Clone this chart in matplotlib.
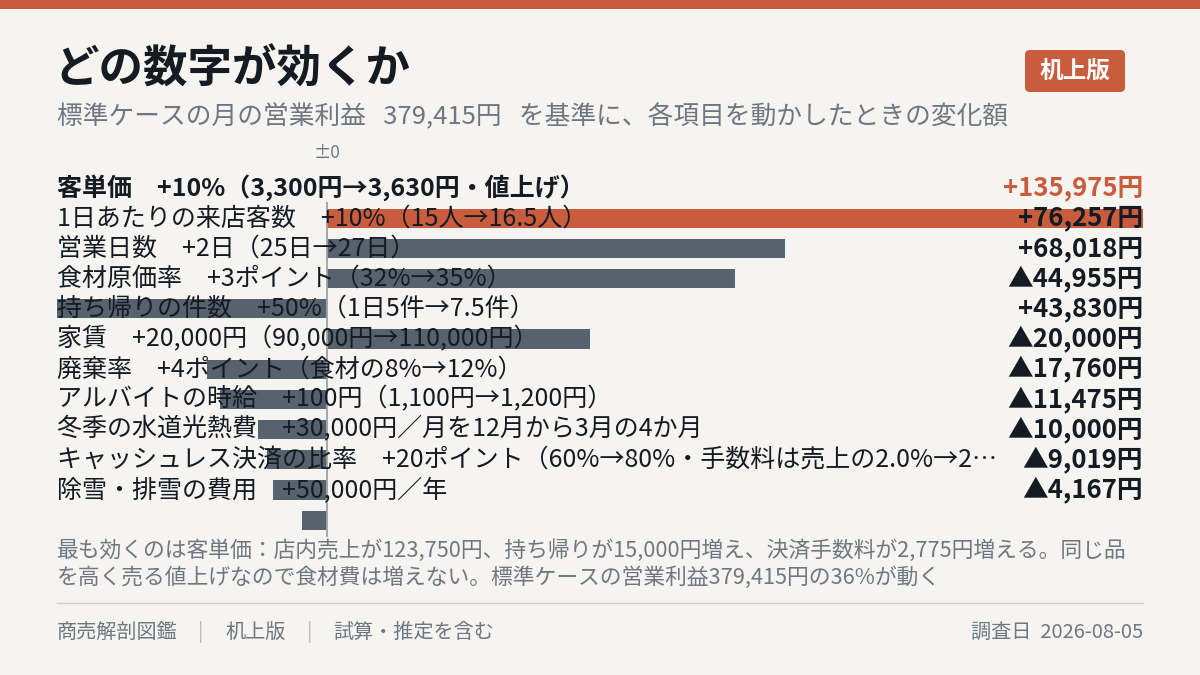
import matplotlib
matplotlib.use("Agg")
import matplotlib.pyplot as plt
import matplotlib.transforms as mtransforms
from matplotlib.patches import Rectangle, FancyBboxPatch
import numpy as np

plt.rcParams['font.family'] = ['Noto Sans CJK JP', 'DejaVu Sans']

# data
items = ["客単価", "1日あたりの来店客数", "営業日数", "食材原価率", "持ち帰りの件数",
         "家賃", "廃棄率", "アルバイトの時給", "冬季の水道光熱費",
         "キャッシュレス決済の比率", "除雪・排雪の費用"]
details = ["+10%（3,300円→3,630円・値上げ）", "+10%（15人→16.5人）", "+2日（25日→27日）",
           "+3ポイント（32%→35%）", "+50%（1日5件→7.5件）", "+20,000円（90,000円→110,000円）",
           "+4ポイント（食材の8%→12%）", "+100円（1,100円→1,200円）",
           "+30,000円／月を12月から3月の4か月",
           "+20ポイント（60%→80%・手数料は売上の2.0%→2…", "+50,000円／年"]
deltas = [135975, 76257, 68018, -44955, 43830, -20000, -17760, -11475, -10000, -9019, -4167]

title = "どの数字が効くか"
subtitle = "標準ケースの月の営業利益   379,415円   を基準に、各項目を動かしたときの変化額"
note = ["最も効くのは客単価：店内売上が123,750円、持ち帰りが15,000円増え、決済手数料が2,775円増える。同じ品",
        "を高く売る値上げなので食材費は増えない。標準ケースの営業利益379,415円の36%が動く"]
footer_left = ["商売解剖図鑑", "机上版", "試算・推定を含む"]
footer_right = "調査日  2026-08-05"

BG = "#f5f4f0"
ORANGE = "#c95c3d"
SLATE = "#56636f"
DARK = "#141b22"
GRAY = "#6e7781"

W, H = 1200, 675
fig = plt.figure(figsize=(12, 6.75), dpi=100, facecolor=BG)

def fx(px):
    return px / W

def fy(py):
    return 1 - py / H

# top band
fig.patches.append(Rectangle((0, fy(9)), 1, 9 / H, transform=fig.transFigure,
                             facecolor=ORANGE, edgecolor="none"))

fig.text(fx(54), fy(70), title, fontsize=32, fontweight="bold", color=DARK, va="center")
fig.text(fx(57), fy(117), subtitle, fontsize=18.5, color=GRAY, va="center")

# badge
fig.patches.append(FancyBboxPatch((fx(1025), fy(92)), 100 / W, 42 / H,
                                  boxstyle="round,pad=0,rounding_size=0.004",
                                  mutation_aspect=W / H,
                                  transform=fig.transFigure, facecolor=ORANGE,
                                  edgecolor="none"))
fig.text(fx(1075), fy(71), "机上版", fontsize=17, fontweight="bold", color="white",
         ha="center", va="center")

# main axes
row0, step = 188, 30.2
top_px = row0 - 0.5 * step
bot_px = row0 + 11.6 * step
ax = fig.add_axes([fx(57), fy(bot_px), 1086 / W, (bot_px - top_px) / H])
ax.set_facecolor(BG)
ax.set_xlim(min(deltas), max(deltas))
ax.set_ylim(11.6, -0.5)
ax.axis("off")

n = len(items)
ypos = np.arange(n)
colors = [ORANGE if v == max(deltas) else SLATE for v in deltas]
ax.barh(ypos + 1, deltas, height=0.63, color=colors, zorder=1)
ax.vlines(0, 0.45, 11.56, color="#a0a0a0", lw=1.3, zorder=2)
ax.text(0, -1.16, "±0", fontsize=12.5, color=GRAY, ha="center", va="center", clip_on=False)

trans = mtransforms.blended_transform_factory(ax.transAxes, ax.transData)
for i in range(n):
    bold = i == 0
    ax.text(0, ypos[i], items[i] + "　" + details[i], transform=trans, ha="left", va="center",
            fontsize=18, color=DARK, fontweight="bold" if bold else "normal", zorder=3)
    v = deltas[i]
    s = f"+{v:,}円" if v > 0 else f"▲{abs(v):,}円"
    ax.text(1, ypos[i], s, transform=trans, ha="right", va="center", fontsize=18.5,
            fontweight="bold", color=ORANGE if i == 0 else DARK, zorder=3)

# note
for k, line in enumerate(note):
    fig.text(fx(57), fy(551 + 27 * k), line, fontsize=15.7, color=GRAY, va="center")

fig.add_artist(plt.Line2D([fx(57), fx(1143)], [fy(603), fy(603)], transform=fig.transFigure,
                          color="#d0d0cc", lw=1))

fig.text(fx(57), fy(632), footer_left[0], fontsize=14.5, color=GRAY, va="center")
fig.text(fx(201), fy(632), "|", fontsize=14.5, color="#b8b8b8", va="center", ha="center")
fig.text(fx(225), fy(632), footer_left[1], fontsize=14.5, color=GRAY, va="center")
fig.text(fx(310), fy(632), "|", fontsize=14.5, color="#b8b8b8", va="center", ha="center")
fig.text(fx(333), fy(632), footer_left[2], fontsize=14.5, color=GRAY, va="center")
fig.text(fx(1143), fy(632), footer_right, fontsize=14.5, color=GRAY, va="center", ha="right")

fig.savefig("out.png", dpi=100, facecolor=BG)
